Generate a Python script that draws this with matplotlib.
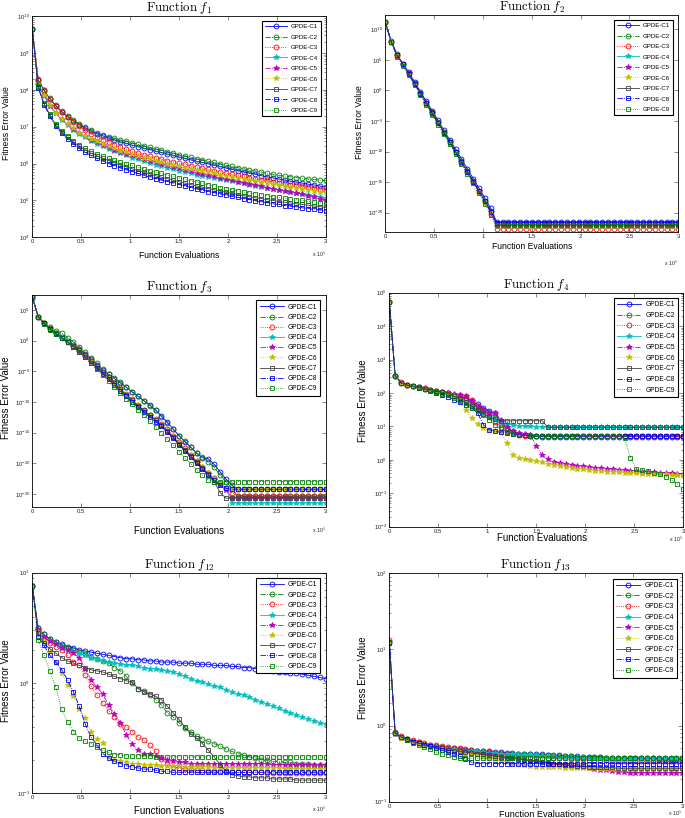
import numpy as np
import matplotlib
matplotlib.use("Agg")
import matplotlib.pyplot as plt
from matplotlib.ticker import FixedLocator, LogLocator, NullLocator, NullFormatter

plt.rcParams['font.family'] = ['Liberation Sans', 'DejaVu Sans']
plt.rcParams['mathtext.fontset'] = 'cm'

# legend entries and their MATLAB-like line specs
variants = ['GPDE-C1', 'GPDE-C2', 'GPDE-C3', 'GPDE-C4', 'GPDE-C5',
            'GPDE-C6', 'GPDE-C7', 'GPDE-C8', 'GPDE-C9']
colors = [(0, 0, 1), (0, 0.5, 0), (1, 0, 0), (0, 0.75, 0.75), (0.75, 0, 0.75),
          (0.75, 0.75, 0), (0.25, 0.25, 0.25), (0, 0, 1), (0, 0.5, 0)]
styles = ['-', '-.', ':', '-', '-.', ':', '-', '-.', ':']
markers = ['o', 'o', 'o', '*', '*', '*', 's', 's', 's']

record_every = 6000  # function evaluations between two logged points

# log10 of the fitness error, one list per variant (C1..C9)
f1_log10 = [
    [9.64, 8.27, 7.98, 7.75, 7.56, 7.40, 7.27, 7.15, 7.05, 6.96, 6.88, 6.81, 6.75, 6.69, 6.64, 6.59, 6.55,
     6.50, 6.46, 6.42, 6.38, 6.34, 6.30, 6.26, 6.22, 6.18, 6.14, 6.10, 6.06, 6.03, 5.99, 5.95, 5.92, 5.88,
     5.84, 5.81, 5.77, 5.74, 5.71, 5.67, 5.64, 5.61, 5.58, 5.55, 5.52, 5.50, 5.47, 5.44, 5.42, 5.39, 5.37],
    [9.64, 8.27, 8.00, 7.77, 7.58, 7.42, 7.29, 7.17, 7.07, 6.98, 6.90, 6.83, 6.77, 6.72, 6.68, 6.64, 6.60,
     6.56, 6.52, 6.48, 6.44, 6.40, 6.36, 6.32, 6.28, 6.24, 6.20, 6.17, 6.13, 6.10, 6.06, 6.03, 5.99, 5.96,
     5.92, 5.89, 5.86, 5.83, 5.80, 5.77, 5.74, 5.71, 5.68, 5.66, 5.64, 5.62, 5.60, 5.58, 5.57, 5.55, 5.54],
    [9.64, 8.30, 8.00, 7.76, 7.57, 7.40, 7.26, 7.13, 7.01, 6.91, 6.81, 6.73, 6.65, 6.58, 6.51, 6.45, 6.39,
     6.34, 6.29, 6.24, 6.20, 6.16, 6.12, 6.08, 6.05, 6.01, 5.98, 5.94, 5.91, 5.88, 5.84, 5.81, 5.78, 5.74,
     5.71, 5.68, 5.65, 5.62, 5.59, 5.56, 5.54, 5.51, 5.48, 5.46, 5.43, 5.41, 5.38, 5.36, 5.33, 5.31, 5.28],
    [9.64, 8.15, 7.84, 7.56, 7.36, 7.19, 7.05, 6.92, 6.81, 6.71, 6.62, 6.54, 6.47, 6.40, 6.34, 6.28, 6.22,
     6.16, 6.11, 6.06, 6.01, 5.97, 5.93, 5.89, 5.85, 5.81, 5.77, 5.74, 5.70, 5.67, 5.64, 5.61, 5.58, 5.55,
     5.52, 5.49, 5.46, 5.43, 5.40, 5.37, 5.34, 5.31, 5.28, 5.25, 5.23, 5.20, 5.17, 5.14, 5.12, 5.09, 5.06],
    [9.64, 8.13, 7.85, 7.57, 7.37, 7.20, 7.06, 6.94, 6.83, 6.74, 6.65, 6.58, 6.51, 6.44, 6.38, 6.32, 6.27,
     6.22, 6.17, 6.12, 6.08, 6.03, 5.99, 5.95, 5.91, 5.87, 5.83, 5.79, 5.75, 5.72, 5.68, 5.65, 5.61, 5.58,
     5.54, 5.51, 5.48, 5.45, 5.41, 5.38, 5.35, 5.32, 5.29, 5.26, 5.23, 5.20, 5.17, 5.13, 5.09, 5.05, 5.00],
    [9.64, 8.13, 7.86, 7.58, 7.38, 7.21, 7.07, 6.95, 6.84, 6.75, 6.67, 6.60, 6.53, 6.47, 6.41, 6.35, 6.30,
     6.25, 6.20, 6.16, 6.12, 6.08, 6.04, 6.00, 5.96, 5.93, 5.89, 5.86, 5.82, 5.79, 5.76, 5.73, 5.70, 5.67,
     5.64, 5.61, 5.58, 5.55, 5.52, 5.49, 5.47, 5.44, 5.41, 5.39, 5.36, 5.34, 5.31, 5.29, 5.26, 5.23, 5.19],
    [9.64, 8.08, 7.62, 7.31, 7.04, 6.86, 6.71, 6.58, 6.47, 6.37, 6.28, 6.21, 6.14, 6.08, 6.02, 5.96, 5.91,
     5.86, 5.81, 5.76, 5.72, 5.67, 5.63, 5.59, 5.55, 5.51, 5.47, 5.43, 5.39, 5.36, 5.32, 5.29, 5.25, 5.22,
     5.19, 5.16, 5.13, 5.10, 5.07, 5.05, 5.02, 5.00, 4.97, 4.95, 4.93, 4.91, 4.89, 4.87, 4.85, 4.83, 4.81],
    [9.64, 8.06, 7.60, 7.28, 7.01, 6.82, 6.66, 6.53, 6.41, 6.31, 6.22, 6.14, 6.07, 6.00, 5.94, 5.88, 5.83,
     5.78, 5.73, 5.68, 5.63, 5.59, 5.55, 5.51, 5.47, 5.43, 5.39, 5.35, 5.31, 5.28, 5.24, 5.21, 5.17, 5.14,
     5.11, 5.08, 5.05, 5.02, 4.99, 4.96, 4.94, 4.91, 4.89, 4.86, 4.84, 4.82, 4.80, 4.78, 4.76, 4.74, 4.72],
    [9.64, 8.10, 7.64, 7.33, 7.07, 6.89, 6.74, 6.61, 6.50, 6.41, 6.33, 6.26, 6.20, 6.14, 6.09, 6.04, 5.99,
     5.95, 5.90, 5.86, 5.81, 5.77, 5.73, 5.69, 5.65, 5.61, 5.57, 5.53, 5.50, 5.46, 5.42, 5.39, 5.35, 5.32,
     5.29, 5.26, 5.23, 5.20, 5.18, 5.15, 5.13, 5.10, 5.08, 5.06, 5.04, 5.02, 5.00, 4.98, 4.96, 4.94, 4.92],
]

f2_log10 = [
    [11.2, 8.1, 5.9, 4.4, 3.0, 1.4, -0.2, -1.8, -3.3, -4.9, -6.5, -8.1, -9.6, -11.2, -12.8, -14.4, -16.0,
     -17.6, -19.3,
     -21.5, -21.5, -21.5, -21.5, -21.5, -21.5, -21.5, -21.5, -21.5, -21.5, -21.5, -21.5, -21.5, -21.5, -21.5, -21.5,
     -21.5, -21.5, -21.5, -21.5, -21.5, -21.5, -21.5, -21.5, -21.5, -21.5, -21.5, -21.5, -21.5, -21.5, -21.5, -21.5],
    [11.2, 7.95, 5.8, 4.3, 2.8, 1.2, -0.4, -2.0, -3.6, -5.2, -6.8, -8.4, -10.0, -11.6, -13.2, -14.8, -16.4,
     -18.0, -19.7,
     -22.0, -22.0, -22.0, -22.0, -22.0, -22.0, -22.0, -22.0, -22.0, -22.0, -22.0, -22.0, -22.0, -22.0, -22.0, -22.0,
     -22.0, -22.0, -22.0, -22.0, -22.0, -22.0, -22.0, -22.0, -22.0, -22.0, -22.0, -22.0, -22.0, -22.0, -22.0, -22.0],
    [11.2, 7.9, 5.6, 4.2, 2.7, 1.0, -0.6, -2.2, -3.8, -5.4, -7.0, -8.6, -10.2, -11.8, -13.4, -15.0, -16.6,
     -18.3, -20.2,
     -22.6, -22.6, -22.6, -22.6, -22.6, -22.6, -22.6, -22.6, -22.6, -22.6, -22.6, -22.6, -22.6, -22.6, -22.6, -22.6,
     -22.6, -22.6, -22.6, -22.6, -22.6, -22.6, -22.6, -22.6, -22.6, -22.6, -22.6, -22.6, -22.6, -22.6, -22.6, -22.6],
    [11.2, 7.95, 5.8, 4.25, 2.75, 1.1, -0.5, -2.1, -3.7, -5.3, -6.9, -8.5, -10.1, -11.7, -13.3, -14.9, -16.5,
     -18.1, -19.8,
     -22.1, -22.1, -22.1, -22.1, -22.1, -22.1, -22.1, -22.1, -22.1, -22.1, -22.1, -22.1, -22.1, -22.1, -22.1, -22.1,
     -22.1, -22.1, -22.1, -22.1, -22.1, -22.1, -22.1, -22.1, -22.1, -22.1, -22.1, -22.1, -22.1, -22.1, -22.1, -22.1],
    [11.2, 8.0, 5.75, 4.3, 2.8, 1.1, -0.5, -2.1, -3.7, -5.3, -6.9, -8.5, -10.1, -11.7, -13.3, -14.9, -16.5,
     -18.2, -19.9,
     -22.1, -22.1, -22.1, -22.1, -22.1, -22.1, -22.1, -22.1, -22.1, -22.1, -22.1, -22.1, -22.1, -22.1, -22.1, -22.1,
     -22.1, -22.1, -22.1, -22.1, -22.1, -22.1, -22.1, -22.1, -22.1, -22.1, -22.1, -22.1, -22.1, -22.1, -22.1, -22.1],
    [11.2, 7.95, 5.8, 4.3, 2.7, 1.1, -0.5, -2.2, -3.8, -5.3, -6.9, -8.6, -10.2, -11.7, -13.3, -14.9, -16.6,
     -18.2, -19.9,
     -22.2, -22.2, -22.2, -22.2, -22.2, -22.2, -22.2, -22.2, -22.2, -22.2, -22.2, -22.2, -22.2, -22.2, -22.2, -22.2,
     -22.2, -22.2, -22.2, -22.2, -22.2, -22.2, -22.2, -22.2, -22.2, -22.2, -22.2, -22.2, -22.2, -22.2, -22.2, -22.2],
    [11.2, 8.0, 5.85, 4.3, 2.8, 1.2, -0.4, -2.0, -3.6, -5.2, -6.8, -8.4, -10.0, -11.6, -13.2, -14.8, -16.4,
     -18.0, -19.7,
     -21.9, -21.9, -21.9, -21.9, -21.9, -21.9, -21.9, -21.9, -21.9, -21.9, -21.9, -21.9, -21.9, -21.9, -21.9, -21.9,
     -21.9, -21.9, -21.9, -21.9, -21.9, -21.9, -21.9, -21.9, -21.9, -21.9, -21.9, -21.9, -21.9, -21.9, -21.9, -21.9],
    [11.2, 8.0, 5.8, 4.3, 2.7, 1.1, -0.5, -2.1, -3.7, -5.3, -6.9, -8.5, -10.1, -11.7, -13.3, -14.9, -16.5,
     -18.1, -19.8,
     -21.6, -21.6, -21.6, -21.6, -21.6, -21.6, -21.6, -21.6, -21.6, -21.6, -21.6, -21.6, -21.6, -21.6, -21.6, -21.6,
     -21.6, -21.6, -21.6, -21.6, -21.6, -21.6, -21.6, -21.6, -21.6, -21.6, -21.6, -21.6, -21.6, -21.6, -21.6, -21.6],
    [11.2, 7.9, 5.5, 4.0, 2.5, 0.9, -0.8, -2.4, -4.0, -5.6, -7.2, -8.8, -10.4, -12.0, -13.6, -15.2, -16.8,
     -18.5, -20.4,
     -22.0, -22.0, -22.0, -22.0, -22.0, -22.0, -22.0, -22.0, -22.0, -22.0, -22.0, -22.0, -22.0, -22.0, -22.0, -22.0,
     -22.0, -22.0, -22.0, -22.0, -22.0, -22.0, -22.0, -22.0, -22.0, -22.0, -22.0, -22.0, -22.0, -22.0, -22.0, -22.0],
]

f3_log10 = [
    [7.0, 3.9, 2.9, 2.0, 1.3, 0.6, -0.1, -0.7, -1.4, -2.2, -3.0, -3.9, -4.8, -5.5, -6.2, -6.9, -7.6, -8.4,
     -9.1, -9.8, -10.5, -11.3, -12.3, -13.3, -14.4, -15.5, -16.5, -17.4, -18.4, -19.1, -19.3, -20.2, -21.4,
     -22.6, -23.6,
     -24.25, -24.25, -24.25, -24.25, -24.25, -24.25, -24.25, -24.25,
     -24.25, -24.25, -24.25, -24.25, -24.25, -24.25, -24.25, -24.25],
    [7.2, 3.9, 2.9, 2.2, 1.6, 1.3, 0.5, -0.2, -1.0, -1.9, -2.8, -3.7, -4.6, -5.4, -6.1, -6.8, -7.6, -8.3,
     -9.0, -9.8, -10.6, -11.4, -12.4, -13.4, -14.5, -15.5, -16.4, -17.4, -18.3, -19.0, -19.8, -20.7, -21.9,
     -23.0, -24.2,
     -25.3, -25.3, -25.3, -25.3, -25.3, -25.3, -25.3, -25.3,
     -25.3, -25.3, -25.3, -25.3, -25.3, -25.3, -25.3, -25.3],
    [7.2, 3.9, 2.8, 1.9, 1.2, 0.5, -0.2, -0.9, -1.6, -2.4, -3.3, -4.2, -5.1, -6.0, -6.9, -7.8, -8.7, -9.6,
     -10.5, -11.3, -12.1, -12.8, -13.6, -14.5, -15.5, -16.6, -17.6, -18.6, -19.6, -20.6, -21.6, -22.4, -23.3,
     -24.1, -24.8,
     -25.3, -25.3, -25.3, -25.3, -25.3, -25.3, -25.3, -25.3,
     -25.3, -25.3, -25.3, -25.3, -25.3, -25.3, -25.3, -25.3],
    [7.2, 3.9, 2.8, 1.9, 1.2, 0.5, -0.2, -0.9, -1.7, -2.5, -3.4, -4.3, -5.2, -6.1, -7.0, -8.0, -8.9, -9.8,
     -10.6, -11.4, -12.2, -13.0, -13.8, -14.7, -15.7, -16.8, -17.8, -18.8, -19.8, -20.8, -21.7, -22.6, -23.4,
     -24.2,
     -26.5, -26.5, -26.5, -26.5, -26.5, -26.5, -26.5, -26.5, -26.5,
     -26.5, -26.5, -26.5, -26.5, -26.5, -26.5, -26.5, -26.5],
    [7.2, 3.9, 2.8, 1.9, 1.1, 0.4, -0.3, -1.0, -1.8, -2.6, -3.5, -4.4, -5.3, -6.2, -7.1, -8.1, -9.0, -9.9,
     -10.7, -11.5, -12.3, -13.1, -13.9, -14.8, -15.8, -16.9, -17.9, -18.9, -19.9, -20.9, -21.8, -22.7, -23.5,
     -24.3,
     -25.7, -25.7, -25.7, -25.7, -25.7, -25.7, -25.7, -25.7, -25.7,
     -25.7, -25.7, -25.7, -25.7, -25.7, -25.7, -25.7, -25.7],
    [7.2, 3.9, 2.8, 1.9, 1.2, 0.5, -0.2, -0.9, -1.7, -2.5, -3.4, -4.3, -5.2, -6.1, -7.0, -7.9, -8.8, -9.7,
     -10.5, -11.3, -12.1, -12.9, -13.7, -14.6, -15.6, -16.7, -17.7, -18.7, -19.7, -20.7, -21.6, -22.5, -23.3,
     -24.0,
     -24.25, -24.25, -24.25, -24.25, -24.25, -24.25, -24.25, -24.25, -24.25,
     -24.25, -24.25, -24.25, -24.25, -24.25, -24.25, -24.25, -24.25],
    [7.2, 3.9, 2.8, 1.9, 1.2, 0.5, -0.2, -0.9, -1.6, -2.4, -3.3, -4.2, -5.1, -6.0, -6.9, -7.9, -8.8, -9.7,
     -10.6, -11.4, -12.2, -13.0, -13.8, -14.7, -15.7, -16.8, -17.8, -18.8, -19.8, -20.8, -21.8, -23.0, -24.8,
     -25.7, -25.7, -25.7, -25.7, -25.7, -25.7, -25.7, -25.7, -25.7,
     -25.7, -25.7, -25.7, -25.7, -25.7, -25.7, -25.7, -25.7, -25.7],
    [7.2, 3.9, 2.8, 1.9, 1.1, 0.4, -0.3, -1.0, -1.8, -2.7, -3.6, -4.5, -5.4, -6.3, -7.2, -8.2, -9.1, -10.0,
     -10.8, -11.6, -12.4, -13.2, -14.0, -14.9, -15.9, -17.0, -18.0, -19.0, -20.0, -21.0, -21.9, -22.8, -23.6,
     -24.1,
     -24.25, -24.25, -24.25, -24.25, -24.25, -24.25, -24.25, -24.25, -24.25,
     -24.25, -24.25, -24.25, -24.25, -24.25, -24.25, -24.25, -24.25],
    [7.2, 3.9, 2.7, 1.8, 1.1, 0.4, -0.3, -1.0, -1.8, -2.7, -3.6, -4.6, -5.6, -6.6, -7.6, -8.6, -9.5, -10.4,
     -11.3, -12.2, -13.1, -14.1, -15.1, -16.1, -17.1, -18.1, -19.1, -20.1, -21.1, -22.0, -22.7,
     -23.0, -23.0, -23.0, -23.0, -23.0, -23.0, -23.0, -23.0, -23.0, -23.0,
     -23.0, -23.0, -23.0, -23.0, -23.0, -23.0, -23.0, -23.0, -23.0, -23.0],
]

f4_log10 = [
    [4.73, 2.51, 2.31, 2.24, 2.21, 2.17, 2.13, 2.09, 2.06, 2.02, 1.99,
     1.93, 1.89, 1.84, 1.76, 1.66, 1.56, 1.47, 1.39, 1.15, 0.95, 0.82, 0.76, 0.73, 0.71, 0.70,
     0.69, 0.69, 0.69, 0.69, 0.69, 0.69, 0.69, 0.69, 0.69, 0.69, 0.69, 0.69, 0.69, 0.69, 0.69, 0.69,
     0.69, 0.69, 0.69, 0.69, 0.69, 0.69, 0.69, 0.69, 0.69],
    [4.73, 2.50, 2.30, 2.24, 2.20, 2.17, 2.13, 2.09, 2.05, 2.02, 1.99,
     1.92, 1.86, 1.78, 1.70, 1.60, 1.50, 1.40, 1.25, 1.08, 0.95, 0.85, 0.78, 0.75, 0.73,
     0.72, 0.72, 0.72, 0.72, 0.72, 0.72, 0.72, 0.72, 0.72, 0.72, 0.72, 0.72, 0.72,
     0.72, 0.72, 0.72, 0.72, 0.72, 0.72, 0.72, 0.72, 0.72, 0.72, 0.72, 0.72, 0.72],
    [4.73, 2.51, 2.32, 2.25, 2.22, 2.18, 2.14, 2.10, 2.07, 2.03, 2.00,
     1.95, 1.93, 1.90, 1.80, 1.62, 1.48, 1.30, 1.12, 0.98, 0.88, 0.80, 0.75, 0.72, 0.71,
     0.70, 0.70, 0.70, 0.70, 0.70, 0.70, 0.70, 0.70, 0.70, 0.70, 0.70, 0.70, 0.70,
     0.70, 0.70, 0.70, 0.70, 0.70, 0.70, 0.70, 0.70, 0.70, 0.70, 0.70, 0.70, 0.70],
    [4.73, 2.51, 2.31, 2.24, 2.21, 2.17, 2.13, 2.09, 2.05, 2.01, 1.97,
     1.88, 1.80, 1.70, 1.58, 1.48, 1.38, 1.28, 1.20, 1.12, 1.07, 1.04, 1.02, 1.01, 1.00, 0.99, 0.98,
     0.97, 0.97, 0.97, 0.97, 0.97, 0.97, 0.97, 0.97, 0.97, 0.97, 0.97, 0.97,
     0.97, 0.97, 0.97, 0.97, 0.97, 0.97, 0.97, 0.97, 0.97, 0.97, 0.97, 0.97],
    [4.73, 2.51, 2.31, 2.25, 2.22, 2.18, 2.14, 2.10, 2.07, 2.03, 2.00,
     1.96, 1.94, 1.90, 1.75, 1.59, 1.48, 1.41, 1.39, 1.20, 0.99, 0.85, 0.80, 0.77, 0.74,
     0.41, 0.14, 0.02, -0.06, -0.10, -0.13, -0.15, -0.17, -0.19, -0.21, -0.23, -0.25, -0.26,
     -0.28, -0.29, -0.31, -0.32, -0.33, -0.35, -0.36, -0.37, -0.38, -0.39, -0.40, -0.41, -0.42],
    [4.73, 2.51, 2.31, 2.24, 2.21, 2.17, 2.13, 2.09, 2.05, 2.01, 1.97,
     1.90, 1.75, 1.50, 1.24, 1.08, 0.94, 0.90, 0.86, 0.82,
     0.49, 0.14, 0.07, 0.03, 0.00, -0.03, -0.07, -0.11, -0.14, -0.18, -0.21, -0.24, -0.26, -0.28,
     -0.30, -0.32, -0.33, -0.35, -0.36, -0.37, -0.38, -0.39, -0.40, -0.41, -0.41, -0.42, -0.43,
     -0.43, -0.44, -0.44, -0.45],
    [4.73, 2.51, 2.31, 2.24, 2.21, 2.17, 2.13, 2.09, 2.06, 2.02, 1.98,
     1.90, 1.82, 1.72, 1.60, 1.48, 1.38, 1.28, 1.22,
     1.17, 1.17, 1.17, 1.17, 1.17, 1.17, 1.17, 1.17,
     0.97, 0.97, 0.97, 0.97, 0.97, 0.97, 0.97, 0.97, 0.97, 0.97, 0.97, 0.97,
     0.97, 0.97, 0.97, 0.97, 0.97, 0.97, 0.97, 0.97, 0.97, 0.97, 0.97, 0.97],
    [4.73, 2.51, 2.30, 2.23, 2.20, 2.16, 2.11, 2.05, 2.00, 1.95, 1.88,
     1.80, 1.72, 1.64, 1.55, 1.40, 1.05, 0.90, 0.85, 0.82, 0.80, 0.78, 0.75, 0.73, 0.72,
     0.71, 0.71, 0.71, 0.71, 0.71, 0.71, 0.71, 0.71, 0.71, 0.71, 0.71, 0.71, 0.71,
     0.71, 0.71, 0.71, 0.71, 0.71, 0.71, 0.71, 0.71, 0.71, 0.71, 0.71, 0.71, 0.71],
    [4.73, 2.50, 2.30, 2.23, 2.20, 2.16, 2.12, 2.07, 2.03, 1.98, 1.93,
     1.85, 1.75, 1.64, 1.55, 1.45, 1.33, 1.20, 1.05, 0.92, 0.84, 0.78, 0.75, 0.73,
     0.71, 0.71, 0.71, 0.71, 0.71, 0.71, 0.71, 0.71, 0.71, 0.71, 0.71, 0.71, 0.71, 0.71, 0.71, 0.71,
     0.65, 0.07, -0.27, -0.31, -0.34, -0.38, -0.43, -0.50, -0.60, -0.72, -0.86],
]

f12_log10 = [
    [0.88, 0.50, 0.44, 0.40, 0.37, 0.35, 0.33, 0.32, 0.30, 0.29, 0.28, 0.27, 0.26, 0.25, 0.24, 0.23, 0.22,
     0.22, 0.21, 0.21, 0.20, 0.20, 0.19, 0.19, 0.19, 0.18, 0.18, 0.18, 0.17, 0.17, 0.17, 0.16, 0.16, 0.16,
     0.15, 0.15, 0.14, 0.14, 0.13, 0.13, 0.12, 0.11, 0.10, 0.10, 0.09, 0.09, 0.08, 0.07, 0.06, 0.05, 0.04],
    [0.88, 0.50, 0.44, 0.40, 0.37, 0.34, 0.32, 0.30, 0.28, 0.26, 0.24, 0.22, 0.20, 0.18, 0.14, 0.11, 0.06,
     0.00, -0.05, -0.07, -0.11, -0.15, -0.20, -0.27, -0.31, -0.36, -0.41, -0.44, -0.48, -0.51, -0.53, -0.55,
     -0.57, -0.60, -0.62, -0.64, -0.65, -0.67, -0.68, -0.70, -0.70, -0.71, -0.71, -0.72, -0.72, -0.73, -0.73,
     -0.73, -0.74, -0.74, -0.74],
    [0.88, 0.48, 0.40, 0.36, 0.33, 0.30, 0.25, 0.19, 0.16, 0.07, -0.03, -0.11, -0.18, -0.25, -0.31, -0.37,
     -0.40, -0.44, -0.49, -0.52, -0.56, -0.62, -0.69, -0.73, -0.76, -0.77, -0.78, -0.78, -0.79, -0.79, -0.80,
     -0.80, -0.80, -0.80, -0.81, -0.81, -0.81, -0.81, -0.81, -0.81, -0.82, -0.82, -0.82, -0.82, -0.82, -0.82,
     -0.82, -0.82, -0.82, -0.82, -0.82],
    [0.88, 0.48, 0.42, 0.38, 0.35, 0.32, 0.30, 0.28, 0.27, 0.25, 0.23, 0.22, 0.20, 0.19, 0.18, 0.17, 0.16,
     0.16, 0.15, 0.14, 0.13, 0.13, 0.12, 0.11, 0.10, 0.08, 0.06, 0.04, 0.02, 0.01, -0.01, -0.03, -0.04,
     -0.06, -0.08, -0.10, -0.11, -0.13, -0.15, -0.17, -0.19, -0.21, -0.23, -0.25, -0.27, -0.29, -0.31,
     -0.33, -0.34, -0.36, -0.37],
    [0.88, 0.48, 0.42, 0.38, 0.35, 0.32, 0.30, 0.27, 0.23, 0.13, 0.03, -0.04, -0.10, -0.20, -0.28, -0.36,
     -0.47, -0.55, -0.61, -0.64, -0.64, -0.66, -0.68, -0.70, -0.71, -0.72, -0.72, -0.73, -0.73, -0.73, -0.73,
     -0.73, -0.73, -0.73, -0.73, -0.73, -0.73, -0.73, -0.73, -0.73, -0.73, -0.74, -0.74, -0.74, -0.74, -0.74,
     -0.74, -0.74, -0.74, -0.74, -0.74],
    [0.88, 0.46, 0.38, 0.28, 0.18, 0.09, -0.02, -0.12, -0.24, -0.32, -0.44, -0.51, -0.54, -0.67, -0.70,
     -0.71, -0.72, -0.73, -0.73, -0.74, -0.74, -0.74, -0.75, -0.75, -0.75, -0.75, -0.76, -0.76, -0.76, -0.76,
     -0.76, -0.77, -0.77, -0.77, -0.77, -0.77, -0.77, -0.77, -0.77, -0.77, -0.77, -0.77, -0.77, -0.78, -0.78,
     -0.78, -0.78, -0.78, -0.78, -0.78, -0.78],
    [0.88, 0.45, 0.36, 0.31, 0.27, 0.23, 0.20, 0.18, 0.16, 0.14, 0.12, 0.11, 0.10, 0.08, 0.06, 0.04, 0.02,
     0.01, -0.05, -0.08, -0.10, -0.12, -0.15, -0.21, -0.27, -0.33, -0.40, -0.46, -0.50, -0.55, -0.61, -0.67,
     -0.74, -0.80, -0.83, -0.84, -0.85, -0.85, -0.86, -0.86, -0.86, -0.87, -0.87, -0.87, -0.87, -0.88, -0.88,
     -0.88, -0.88, -0.88, -0.88],
    [0.88, 0.42, 0.34, 0.25, 0.19, 0.12, 0.03, -0.08, -0.21, -0.37, -0.49, -0.56, -0.64, -0.68, -0.71, -0.73,
     -0.75, -0.76, -0.77, -0.78, -0.78, -0.79, -0.80, -0.80, -0.81, -0.81, -0.81, -0.81, -0.81, -0.81, -0.81,
     -0.81, -0.81, -0.81, -0.81, -0.81, -0.81, -0.81, -0.81, -0.81, -0.81, -0.81, -0.81, -0.81, -0.81, -0.81,
     -0.81, -0.81, -0.81, -0.81, -0.81],
    [0.88, 0.39, 0.25, 0.11, -0.04, -0.24, -0.35, -0.44, -0.50, -0.53, -0.55, -0.58, -0.61, -0.63, -0.65,
     -0.65, -0.66, -0.66, -0.66, -0.66, -0.66, -0.67, -0.67, -0.67, -0.67, -0.67, -0.67, -0.67, -0.67, -0.67,
     -0.67, -0.67, -0.67, -0.67, -0.67, -0.67, -0.67, -0.67, -0.67, -0.67, -0.67, -0.67, -0.67, -0.67, -0.67,
     -0.67, -0.67, -0.67, -0.67, -0.67, -0.67],
]

f13_log10 = [
    [1.08, -0.10, -0.15, -0.18, -0.20, -0.22, -0.24, -0.26, -0.27, -0.28, -0.29, -0.30, -0.31, -0.32, -0.32,
     -0.33, -0.34, -0.34, -0.35, -0.35, -0.36, -0.36, -0.37, -0.37, -0.38, -0.38, -0.38, -0.39, -0.39, -0.39,
     -0.40, -0.40, -0.40, -0.41, -0.41, -0.41, -0.41, -0.42, -0.42, -0.42, -0.42, -0.43, -0.43, -0.43, -0.43,
     -0.43, -0.44, -0.44, -0.44, -0.44, -0.44],
    [1.10, -0.10, -0.15, -0.18, -0.21, -0.23, -0.25, -0.27, -0.28, -0.29, -0.30, -0.31, -0.32, -0.33, -0.33,
     -0.34, -0.35, -0.35, -0.36, -0.36, -0.37, -0.37, -0.38, -0.38, -0.38, -0.39, -0.39, -0.39, -0.40, -0.40,
     -0.40, -0.40, -0.41, -0.41, -0.41, -0.41, -0.41, -0.42, -0.42, -0.42, -0.42, -0.42, -0.42, -0.42, -0.42,
     -0.42, -0.42, -0.42, -0.42, -0.42, -0.42],
    [1.12, -0.09, -0.14, -0.17, -0.19, -0.21, -0.23, -0.25, -0.26, -0.27, -0.28, -0.29, -0.30, -0.31, -0.32,
     -0.33, -0.34, -0.35, -0.36, -0.37, -0.38, -0.39, -0.40, -0.40, -0.41, -0.41, -0.42, -0.42, -0.43, -0.43,
     -0.43, -0.44, -0.44, -0.44, -0.45, -0.45, -0.45, -0.45, -0.46, -0.46, -0.46, -0.46, -0.46, -0.46, -0.47,
     -0.47, -0.47, -0.47, -0.47, -0.47, -0.47],
    [1.10, -0.10, -0.15, -0.19, -0.21, -0.23, -0.25, -0.27, -0.28, -0.29, -0.30, -0.31, -0.32, -0.33, -0.34,
     -0.34, -0.35, -0.36, -0.36, -0.37, -0.37, -0.38, -0.38, -0.39, -0.39, -0.39, -0.40, -0.40, -0.40, -0.41,
     -0.41, -0.41, -0.41, -0.41, -0.42, -0.42, -0.42, -0.42, -0.42, -0.42, -0.42, -0.42, -0.42, -0.42, -0.42,
     -0.42, -0.42, -0.42, -0.42, -0.42, -0.42],
    [1.10, -0.11, -0.16, -0.19, -0.22, -0.24, -0.26, -0.28, -0.29, -0.30, -0.31, -0.33, -0.34, -0.35, -0.36,
     -0.37, -0.38, -0.39, -0.40, -0.41, -0.42, -0.43, -0.44, -0.45, -0.46, -0.47, -0.48, -0.49, -0.50, -0.51,
     -0.52, -0.53, -0.54, -0.55, -0.56, -0.57, -0.58, -0.59, -0.60, -0.61, -0.61, -0.62, -0.62, -0.62, -0.62,
     -0.62, -0.62, -0.62, -0.62, -0.62, -0.62],
    [1.10, -0.11, -0.16, -0.19, -0.22, -0.24, -0.26, -0.28, -0.30, -0.31, -0.33, -0.34, -0.35, -0.37, -0.38,
     -0.39, -0.41, -0.42, -0.44, -0.46, -0.48, -0.50, -0.51, -0.52, -0.53, -0.54, -0.54, -0.55, -0.55, -0.55,
     -0.56, -0.56, -0.56, -0.56, -0.56, -0.56, -0.57, -0.57, -0.57, -0.57, -0.57, -0.57, -0.57, -0.57, -0.57,
     -0.57, -0.57, -0.57, -0.57, -0.57, -0.57],
    [1.10, -0.10, -0.15, -0.18, -0.21, -0.23, -0.25, -0.27, -0.29, -0.30, -0.32, -0.33, -0.34, -0.35, -0.36,
     -0.37, -0.38, -0.39, -0.40, -0.41, -0.42, -0.43, -0.44, -0.45, -0.46, -0.47, -0.48, -0.49, -0.50, -0.51,
     -0.52, -0.52, -0.53, -0.53, -0.54, -0.54, -0.55, -0.55, -0.55, -0.56, -0.56, -0.56, -0.56, -0.56, -0.56,
     -0.56, -0.56, -0.56, -0.56, -0.56, -0.56],
    [1.08, -0.10, -0.15, -0.18, -0.21, -0.23, -0.25, -0.27, -0.30, -0.32, -0.35, -0.37, -0.40, -0.44, -0.48,
     -0.50, -0.50, -0.50, -0.50, -0.50, -0.50, -0.50, -0.50, -0.50, -0.50, -0.50, -0.50, -0.50, -0.50, -0.50,
     -0.50, -0.50, -0.50, -0.50, -0.50, -0.50, -0.50, -0.50, -0.50, -0.50, -0.50, -0.50, -0.50, -0.50, -0.50,
     -0.50, -0.50, -0.50, -0.50, -0.50, -0.50],
    [1.10, -0.10, -0.15, -0.19, -0.23, -0.26, -0.28, -0.31, -0.35, -0.37, -0.39, -0.41, -0.43, -0.43, -0.43,
     -0.43, -0.43, -0.43, -0.43, -0.43, -0.43, -0.43, -0.43, -0.42, -0.42, -0.42, -0.42, -0.42, -0.42, -0.42,
     -0.42, -0.42, -0.42, -0.42, -0.42, -0.42, -0.42, -0.42, -0.42, -0.42, -0.42, -0.42, -0.42, -0.42, -0.42,
     -0.42, -0.42, -0.42, -0.42, -0.42, -0.42],
]

W, H = 685, 818
fig = plt.figure(figsize=(W / 100, H / 100), dpi=100)


def add_panel(box, name, curves, ylo, yhi, yticks, minor, big, xlab_off, exp_off, leg_space,
              xlab_font=None, lab_shift=(0, 0)):
    x0, y0, x1, y1 = box
    w, h = x1 - x0, y1 - y0
    ax = fig.add_axes([x0 / W, 1 - y1 / H, w / W, h / H])
    for k, vals in enumerate(curves):
        if len(vals) != 51:
            print('warning:', name, k + 1, len(vals))
        evals = np.arange(len(vals)) * record_every / 1e5
        ax.semilogy(evals, 10.0 ** np.array(vals), color=colors[k], linestyle=styles[k],
                    marker=markers[k], markersize=4.4 if markers[k] == '*' else 3.5,
                    markerfacecolor=colors[k] if markers[k] == '*' else 'none',
                    markeredgewidth=0.6, linewidth=0.6, label=variants[k])
    ax.set_xlim(0, 3)
    ax.set_ylim(10.0 ** ylo, 10.0 ** yhi)
    ax.set_xticks([0, 0.5, 1, 1.5, 2, 2.5, 3])
    ax.set_xticklabels(['0', '0.5', '1', '1.5', '2', '2.5', '3'])
    ax.yaxis.set_major_locator(FixedLocator([10.0 ** t for t in yticks]))
    if minor:
        ax.yaxis.set_minor_locator(LogLocator(base=10, subs=np.arange(2, 10)))
    else:
        ax.yaxis.set_minor_locator(NullLocator())
    ax.yaxis.set_minor_formatter(NullFormatter())
    ax.tick_params(which='both', direction='in', top=True, right=True, width=0.4,
                   labelsize=4.3, pad=1.5, colors='#333333', labelcolor='#222222')
    ax.tick_params(which='major', length=3)
    ax.tick_params(which='minor', length=1.6)
    for s in ax.spines.values():
        s.set_linewidth(0.6)

    lab = 7.0 if big else 6.2
    ax.set_title(r'$\mathrm{Function}\ f_{%s}$' % name, fontsize=9.2, pad=2)
    ax.set_xlabel('Function Evaluations', fontsize=xlab_font or lab)
    ax.set_ylabel('Fitness Error Value', fontsize=lab)
    ax.xaxis.set_label_coords(0.5 + lab_shift[0] / w, -xlab_off / h)
    ax.yaxis.set_label_coords(-21 / w, 0.5 + lab_shift[1] / h)
    ax.text(1.0, -exp_off / h, r'x 10$^{5}$', transform=ax.transAxes, ha='right', va='top',
            fontsize=3.8, color='#222222')

    leg = ax.legend(loc='upper right', fontsize=4.8 if big else 4.4, frameon=True, fancybox=False,
                    edgecolor='black', framealpha=1, borderaxespad=0.8, handlelength=3.6,
                    handletextpad=0.6, labelspacing=leg_space, borderpad=0.5, numpoints=1)
    leg.get_frame().set_linewidth(0.8)
    return ax


add_panel((32.3, 16.0, 325.7, 237.3), '1', f1_log10, 4, 10, range(4, 11), True, False, 14, 12, 0.85,
          lab_shift=(0, 4))
add_panel((385.3, 15.0, 678.3, 232.3), '2', f2_log10, -23.2, 12.35, range(-20, 11, 5), False, False, 10, 26, 0.85,
          lab_shift=(0, 2))
add_panel((32.3, 295.0, 325.7, 507.3), '3', f3_log10, -27.2, 7.45, range(-25, 6, 5), False, True, 18.5, 18, 0.48,
          lab_shift=(0, 3))
add_panel((389.3, 292.7, 683.3, 526.7), '4', f4_log10, -2, 5, range(-2, 6), True, True, 6.5, 8, 0.55,
          lab_shift=(6, 9))
add_panel((32.3, 572.7, 325.7, 793.3), '{12}', f12_log10, -1, 1, range(-1, 2), True, True, 13, 11, 0.48,
          lab_shift=(0, 2))
add_panel((389.3, 573.3, 682.3, 801.7), '{13}', f13_log10, -1, 2, range(-1, 3), True, True, 8, 7, 0.55,
          xlab_font=6.6, lab_shift=(6, 10))

fig.savefig('out.png', dpi=100)
